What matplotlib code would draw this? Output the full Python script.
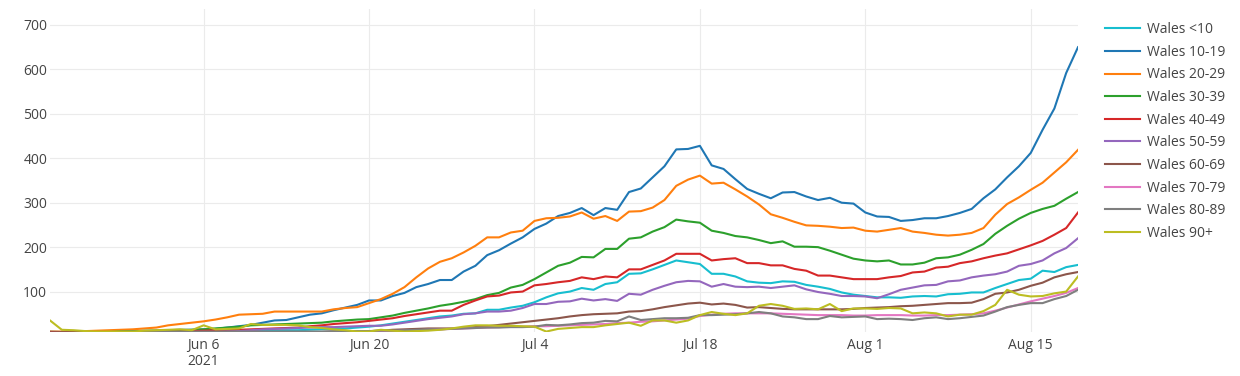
import numpy as np
import pandas as pd
import matplotlib
matplotlib.use("Agg")
import matplotlib.pyplot as plt

# daily values, 24 May 2021 .. 19 Aug 2021
dates = pd.date_range("2021-05-24", "2021-08-19", freq="D")

age_lt10 = [6, 6, 6, 6, 6, 6, 6, 6, 7, 7, 7, 8, 8, 9, 9, 10, 10, 11, 12, 12,
            13, 13, 14, 15, 16, 17, 19, 21, 24, 28, 32, 36, 40, 44, 46, 50, 51, 59, 59, 64,
            68, 76, 87, 96, 100, 108, 104, 117, 121, 140, 141, 150, 160, 170, 166, 162, 140, 140, 134, 123,
            120, 119, 123, 122, 115, 111, 106, 98, 93, 90, 87, 87, 86, 89, 90, 89, 94, 95, 98, 98,
            108, 117, 126, 129, 147, 144, 155, 160]
age_10_19 = [10, 9, 9, 9, 10, 10, 11, 11, 12, 12, 13, 14, 14, 15, 16, 19, 22, 25, 30, 35,
             36, 42, 48, 51, 58, 64, 70, 80, 80, 90, 97, 110, 117, 126, 126, 145, 158, 182, 193, 208,
             222, 241, 253, 270, 277, 288, 272, 288, 284, 324, 332, 357, 382, 420, 421, 428, 384, 376, 353, 331,
             320, 310, 323, 324, 314, 306, 311, 300, 298, 278, 269, 268, 259, 261, 265, 265, 270, 277, 286, 310,
             330, 357, 382, 412, 464, 512, 592, 650]
age_20_29 = [10, 10, 10, 11, 12, 13, 14, 15, 17, 19, 24, 27, 30, 33, 37, 42, 48, 49, 50, 55,
             55, 55, 55, 55, 60, 63, 65, 74, 83, 95, 110, 132, 152, 167, 175, 188, 203, 222, 222, 233,
             237, 259, 265, 266, 269, 278, 264, 270, 259, 280, 281, 289, 306, 338, 352, 361, 343, 345, 330, 314,
             296, 274, 266, 257, 249, 248, 246, 243, 244, 237, 235, 239, 243, 235, 232, 228, 226, 228, 232, 243,
             273, 297, 312, 329, 345, 368, 391, 419]
age_30_39 = [8, 8, 8, 8, 9, 9, 10, 10, 11, 12, 12, 13, 14, 15, 17, 19, 21, 24, 25, 26,
             27, 28, 29, 30, 33, 35, 37, 38, 42, 46, 52, 57, 62, 68, 72, 77, 83, 92, 97, 109,
             115, 128, 143, 158, 165, 178, 177, 196, 196, 219, 222, 235, 245, 262, 258, 255, 237, 232, 225, 222,
             216, 209, 213, 201, 201, 200, 192, 183, 174, 170, 168, 170, 161, 161, 165, 175, 177, 183, 194, 207,
             230, 248, 264, 277, 286, 293, 309, 324]
age_40_49 = [9, 8, 8, 8, 8, 8, 9, 9, 9, 9, 10, 10, 11, 12, 13, 13, 14, 15, 16, 17,
             18, 19, 22, 24, 27, 29, 31, 34, 37, 40, 45, 49, 53, 57, 57, 70, 80, 89, 91, 98,
             100, 114, 117, 121, 124, 132, 128, 134, 132, 150, 150, 160, 170, 185, 185, 185, 170, 173, 175, 164,
             164, 159, 159, 151, 147, 136, 136, 132, 128, 128, 128, 132, 135, 143, 145, 154, 156, 164, 168, 175,
             181, 186, 195, 204, 214, 228, 243, 278]
age_50_59 = [5, 5, 5, 5, 5, 5, 6, 6, 6, 6, 7, 7, 8, 8, 9, 10, 11, 13, 15, 16,
             17, 18, 19, 20, 20, 21, 22, 23, 23, 26, 30, 34, 38, 41, 44, 49, 51, 55, 55, 57,
             63, 72, 72, 77, 78, 84, 80, 83, 79, 95, 93, 104, 113, 121, 124, 123, 111, 117, 111, 110,
             111, 108, 111, 114, 105, 99, 95, 90, 90, 89, 85, 94, 104, 109, 114, 115, 123, 125, 132, 136,
             139, 145, 158, 162, 170, 186, 198, 220]
age_60_69 = [8, 8, 8, 8, 8, 8, 8, 8, 8, 8, 9, 9, 9, 9, 9, 9, 9, 9, 9, 9,
             9, 9, 9, 9, 10, 10, 10, 11, 12, 14, 15, 16, 17, 17, 17, 18, 20, 22, 25, 28,
             31, 34, 37, 40, 44, 47, 49, 50, 51, 55, 56, 60, 65, 69, 73, 75, 71, 73, 70, 64,
             65, 63, 61, 60, 60, 60, 60, 60, 61, 63, 64, 65, 67, 68, 70, 72, 74, 74, 75, 83,
             95, 98, 104, 113, 120, 132, 139, 144]
age_70_79 = [6, 6, 6, 6, 6, 6, 6, 6, 6, 6, 6, 6, 6, 6, 6, 6, 6, 6, 6, 6,
             6, 7, 7, 8, 8, 9, 9, 10, 11, 11, 12, 13, 14, 15, 16, 17, 18, 19, 20, 21,
             21, 22, 22, 23, 24, 25, 26, 27, 29, 30, 32, 33, 35, 37, 39, 45, 48, 50, 51, 51,
             51, 51, 50, 49, 48, 47, 47, 47, 46, 46, 47, 47, 47, 46, 46, 47, 47, 48, 49, 51,
             57, 64, 71, 78, 84, 90, 97, 108]
age_80_89 = [7, 7, 7, 8, 8, 8, 9, 9, 9, 10, 10, 10, 10, 10, 10, 10, 10, 10, 10, 10,
             10, 10, 10, 10, 11, 11, 11, 11, 12, 12, 13, 14, 15, 15, 16, 17, 18, 19, 19, 20,
             20, 21, 25, 24, 26, 29, 30, 34, 33, 44, 36, 38, 40, 40, 41, 47, 47, 48, 49, 51,
             54, 51, 44, 42, 38, 38, 45, 42, 43, 44, 38, 39, 38, 36, 40, 42, 38, 40, 43, 46,
             55, 65, 70, 74, 74, 83, 90, 104]
age_90p = [35, 14, 13, 11, 10, 10, 10, 10, 12, 13, 14, 15, 13, 24, 15, 16, 17, 27, 25, 25,
           25, 24, 20, 18, 15, 13, 10, 10, 14, 12, 10, 11, 12, 14, 17, 21, 24, 24, 23, 23,
           22, 21, 10, 16, 18, 20, 20, 24, 27, 30, 23, 35, 35, 30, 35, 47, 54, 50, 47, 51,
           68, 72, 68, 61, 62, 60, 72, 56, 62, 62, 61, 63, 62, 51, 53, 51, 44, 48, 48, 56,
           70, 104, 93, 89, 90, 96, 100, 134]

series_names = ["Wales <10", "Wales 10-19", "Wales 20-29", "Wales 30-39", "Wales 40-49",
                "Wales 50-59", "Wales 60-69", "Wales 70-79", "Wales 80-89", "Wales 90+"]
series_vals = [age_lt10, age_10_19, age_20_29, age_30_39, age_40_49,
               age_50_59, age_60_69, age_70_79, age_80_89, age_90p]
colors = ["#17becf", "#1f77b4", "#ff7f0e", "#2ca02c", "#d62728",
          "#9467bd", "#8c564b", "#e377c2", "#7f7f7f", "#bcbd22"]

xtick_dates = pd.to_datetime(["2021-06-06", "2021-06-20", "2021-07-04",
                              "2021-07-18", "2021-08-01", "2021-08-15"])
xtick_labels = ["Jun 6\n2021", "Jun 20", "Jul 4", "Jul 18", "Aug 1", "Aug 15"]
ytick_vals = [100, 200, 300, 400, 500, 600, 700]

plt.rcParams['font.family'] = ['Open Sans', 'DejaVu Sans']

fig = plt.figure(figsize=(12.4, 3.76), dpi=100)
ax = fig.add_axes([50 / 1240, 44 / 376, 1028 / 1240, 323 / 376])

for name, vals, c in zip(series_names, series_vals, colors):
    ax.plot(dates, vals, color=c, lw=1.5, label=name, solid_joinstyle="round")

ax.set_xlim(dates[0], dates[-1])
ax.set_ylim(9, 736)
ax.set_xticks(xtick_dates)
ax.set_xticklabels(xtick_labels, linespacing=1.15)
ax.set_yticks(ytick_vals)
ax.grid(True, color="#ebebeb", lw=0.8)
ax.set_axisbelow(True)
for s in ax.spines.values():
    s.set_visible(False)
ax.tick_params(length=0, labelsize=10, colors="#444444")
ax.tick_params(axis="x", pad=4)
ax.tick_params(axis="y", pad=2)

ax.legend(loc="upper left", bbox_to_anchor=(1.0145, 0.998), frameon=False,
          fontsize=10, handlelength=2.5, handletextpad=0.5, labelspacing=0.55,
          labelcolor="#444444")

fig.savefig("out.png", dpi=100)
